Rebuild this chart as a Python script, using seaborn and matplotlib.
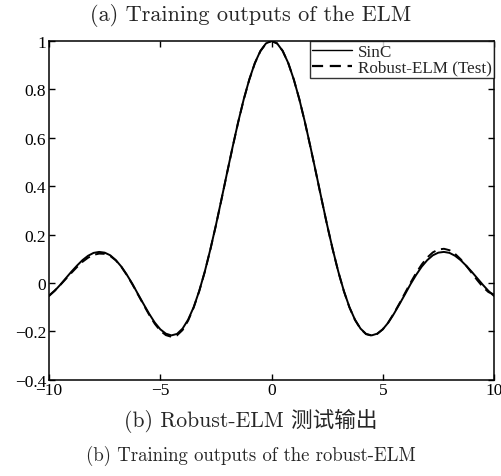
import numpy as np
import pandas as pd
import matplotlib
matplotlib.use("Agg")
import matplotlib.pyplot as plt
import seaborn as sns

# Sample grid (step 0.25 over [-10, 10])
x_vals = [-10.0, -9.75, -9.5, -9.25, -9.0, -8.75, -8.5, -8.25, -8.0, -7.75,
          -7.5, -7.25, -7.0, -6.75, -6.5, -6.25, -6.0, -5.75, -5.5, -5.25,
          -5.0, -4.75, -4.5, -4.25, -4.0, -3.75, -3.5, -3.25, -3.0, -2.75,
          -2.5, -2.25, -2.0, -1.75, -1.5, -1.25, -1.0, -0.75, -0.5, -0.25,
          0.0, 0.25, 0.5, 0.75, 1.0, 1.25, 1.5, 1.75, 2.0, 2.25, 2.5, 2.75,
          3.0, 3.25, 3.5, 3.75, 4.0, 4.25, 4.5, 4.75, 5.0, 5.25, 5.5, 5.75,
          6.0, 6.25, 6.5, 6.75, 7.0, 7.25, 7.5, 7.75, 8.0, 8.25, 8.5, 8.75,
          9.0, 9.25, 9.5, 9.75, 10.0]

# SinC target
sinc_vals = [-0.054, -0.033, -0.008, 0.019, 0.046, 0.071, 0.094, 0.112, 0.124, 0.128,
             0.125, 0.114, 0.094, 0.067, 0.033, -0.005, -0.047, -0.088, -0.128, -0.164,
             -0.192, -0.210, -0.217, -0.211, -0.189, -0.152, -0.100, -0.033, 0.047, 0.139,
             0.239, 0.346, 0.455, 0.562, 0.665, 0.759, 0.841, 0.909, 0.959, 0.990,
             1.000,
             0.990, 0.959, 0.909, 0.841, 0.759, 0.665, 0.562, 0.455, 0.346, 0.239,
             0.139, 0.047, -0.033, -0.100, -0.152, -0.189, -0.211, -0.217, -0.210, -0.192,
             -0.164, -0.128, -0.088, -0.047, -0.005, 0.033, 0.067, 0.094, 0.114, 0.125,
             0.128, 0.124, 0.112, 0.094, 0.071, 0.046, 0.019, -0.008, -0.033, -0.054]

# Robust-ELM test output
elm_test = [-0.052, -0.032, -0.009, 0.016, 0.041, 0.065, 0.087, 0.104, 0.116, 0.121,
            0.120, 0.111, 0.093, 0.066, 0.032, -0.007, -0.049, -0.091, -0.132, -0.169,
            -0.198, -0.216, -0.223, -0.217, -0.195, -0.156, -0.102, -0.034, 0.046, 0.138,
            0.238, 0.345, 0.454, 0.561, 0.664, 0.758, 0.840, 0.908, 0.958, 0.989,
            1.000,
            0.990, 0.959, 0.909, 0.841, 0.759, 0.664, 0.561, 0.454, 0.345, 0.238,
            0.138, 0.046, -0.034, -0.101, -0.153, -0.190, -0.212, -0.218, -0.211, -0.192,
            -0.163, -0.126, -0.085, -0.042, 0.001, 0.041, 0.076, 0.105, 0.126, 0.138,
            0.141, 0.135, 0.120, 0.098, 0.071, 0.041, 0.011, -0.017, -0.038, -0.048]

series_names = ["SinC", "Robust-ELM (Test)"]
x_ticks = [-10, -5, 0, 5, 10]
y_ticks = [-0.4, -0.2, 0, 0.2, 0.4, 0.6, 0.8, 1]

title_text = "(a) Training outputs of the ELM"
caption_cn = "(b) Robust-ELM 测试输出"
caption_en = "(b) Training outputs of the robust-ELM"

df = pd.DataFrame({
    "x": x_vals + x_vals,
    "y": sinc_vals + elm_test,
    "series": [series_names[0]] * len(x_vals) + [series_names[1]] * len(x_vals),
})

sns.set_style("ticks")
plt.rcParams["font.family"] = ["Liberation Serif", "DejaVu Serif"]
plt.rcParams["axes.unicode_minus"] = True

fig = plt.figure(figsize=(5.01, 4.77), dpi=100)
ax = fig.add_axes([0.098, 0.202, 0.888, 0.710])

sns.lineplot(data=df, x="x", y="y", hue="series", style="series",
             palette={series_names[0]: "black", series_names[1]: "black"},
             dashes={series_names[0]: "", series_names[1]: (5, 3)},
             linewidth=1.4, ax=ax, legend=True)

ax.set_xlim(-10, 10)
ax.set_ylim(-0.4, 1.0)
ax.set_xticks(x_ticks)
ax.set_yticks(y_ticks)
ax.set_xticklabels([("\u2212" + str(abs(t))) if t < 0 else str(t) for t in x_ticks])
ax.set_yticklabels([("\u2212" + f"{abs(t):g}") if t < 0 else f"{t:g}" for t in y_ticks])
ax.set_xlabel("")
ax.set_ylabel("")
for s in ax.spines.values():
    s.set_visible(True)
    s.set_linewidth(1.1)
    s.set_color("black")
ax.tick_params(direction="in", length=4, width=1, top=True, right=True,
               labelsize=12.5, colors="black", pad=2)

handles, labels = ax.get_legend_handles_labels()
leg = ax.legend(handles, labels, loc="upper right", borderaxespad=0,
                fontsize=12.3, frameon=True, fancybox=False, handlelength=2.3,
                handletextpad=0.35, borderpad=0.15, labelspacing=0.0)
leg.get_frame().set_edgecolor("black")
leg.get_frame().set_linewidth(1.0)
leg_lines = leg.get_lines()
leg_lines[0].set_linewidth(1.0)
leg_lines[1].set_linewidth(1.6)

cm_family = ["cmr10", "Noto Sans CJK SC"]
fig.text(0.5, 0.968, title_text, ha="center", va="center",
         fontsize=16, family=cm_family)
fig.text(0.5, 0.118, caption_cn, ha="center", va="center",
         fontsize=15.6, family=cm_family)
fig.text(0.5, 0.045, caption_en, ha="center", va="center",
         fontsize=13.5, family=cm_family)

fig.savefig("out.png", dpi=100, facecolor="white")
